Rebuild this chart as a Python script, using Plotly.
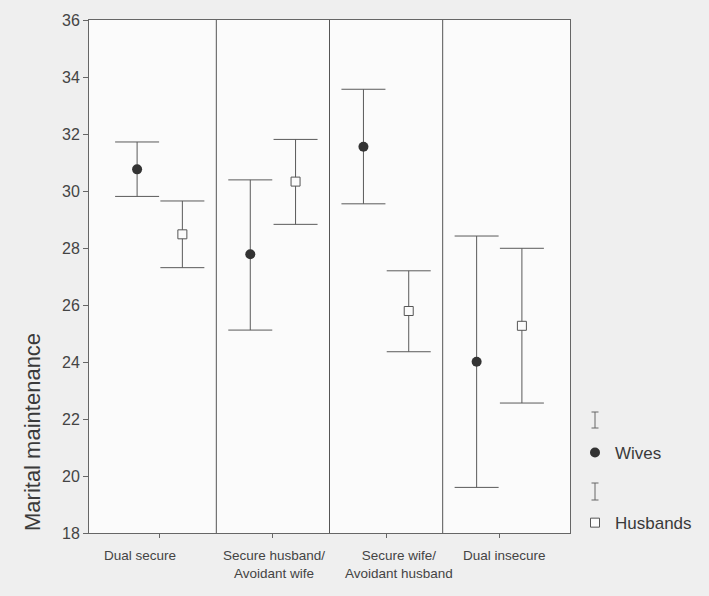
import plotly.graph_objects as go

categories = ["Dual secure", "Secure husband/<br>Avoidant wife",
              "Secure wife/<br>Avoidant husband", "Dual insecure"]
cat_pos = [1, 2, 3, 4]

wives_mean = [30.76, 27.78, 31.55, 24.01]
wives_upper = [31.72, 30.39, 33.57, 28.42]
wives_lower = [29.81, 25.12, 29.55, 19.60]

husbands_mean = [28.48, 30.33, 25.79, 25.27]
husbands_upper = [29.65, 31.81, 27.20, 27.99]
husbands_lower = [27.31, 28.83, 24.36, 22.56]

y_ticks = [18, 20, 22, 24, 26, 28, 30, 32, 34, 36]

W, H = 709, 596
ML, MR, MT, MB = 89, 139, 20, 63
PW, PH = W - ML - MR, H - MT - MB
BG = "#efefef"


def px_x(px):
    return (px - ML) / PW


def px_y(py):
    return (H - MB - py) / PH


off = 0.2
ecol = "#5a5a5a"
fig = go.Figure()
fig.add_trace(go.Scatter(
    x=[c - off for c in cat_pos], y=wives_mean, mode="markers", name="Wives",
    legendgroup="w",
    marker=dict(symbol="circle", size=10, color="#333333", line=dict(width=0)),
    error_y=dict(type="data", symmetric=False,
                 array=[u - m for u, m in zip(wives_upper, wives_mean)],
                 arrayminus=[m - l for m, l in zip(wives_mean, wives_lower)],
                 color=ecol, thickness=1, width=22),
))
fig.add_trace(go.Scatter(
    x=[c + off for c in cat_pos], y=husbands_mean, mode="markers", name="Husbands",
    legendgroup="h",
    marker=dict(symbol="square", size=9, color="#fbfbfb", line=dict(width=1, color="#555555")),
    error_y=dict(type="data", symmetric=False,
                 array=[u - m for u, m in zip(husbands_upper, husbands_mean)],
                 arrayminus=[m - l for m, l in zip(husbands_mean, husbands_lower)],
                 color=ecol, thickness=1, width=22),
))

shapes = []
for b in [1.5, 2.5, 3.5]:
    shapes.append(dict(type="line", xref="x", yref="paper", x0=b, x1=b, y0=0, y1=1,
                       line=dict(color="#555555", width=1)))
# legend error-bar glyphs
for (t, b) in [(412, 428), (483, 500)]:
    xc = 595
    shapes.append(dict(type="line", xref="paper", yref="paper", x0=px_x(xc), x1=px_x(xc),
                       y0=px_y(t), y1=px_y(b), line=dict(color="#666666", width=1)))
    for yy in (t, b):
        shapes.append(dict(type="line", xref="paper", yref="paper", x0=px_x(xc - 3.5),
                           x1=px_x(xc + 3.5), y0=px_y(yy), y1=px_y(yy),
                           line=dict(color="#666666", width=1)))

annotations = []
shifts = [-20, 1, 13, 5]
for c, lab, s in zip(cat_pos, categories, shifts):
    annotations.append(dict(x=c, y=px_y(546), xref="x", yref="paper", text=lab,
                            showarrow=False, xanchor="center", yanchor="top", xshift=s,
                            font=dict(size=13.5, color="#444444")))
annotations.append(dict(x=px_x(32), y=px_y(432), xref="paper", yref="paper",
                        xanchor="center", yanchor="middle",
                        text="Marital maintenance", textangle=-90, showarrow=False,
                        font=dict(size=22, color="#3a3a3a")))

fig.update_layout(
    width=W, height=H,
    margin=dict(l=ML, r=MR, t=MT, b=MB, pad=0),
    paper_bgcolor=BG, plot_bgcolor="#fbfbfb",
    font=dict(family="Liberation Sans, Arial, sans-serif", color="#444444"),
    showlegend=True,
    legend=dict(x=px_x(575), y=px_y(435), xanchor="left", yanchor="top",
                bgcolor="rgba(0,0,0,0)", font=dict(size=17, color="#3a3a3a"),
                tracegroupgap=45, traceorder="grouped"),
    shapes=shapes, annotations=annotations,
    xaxis=dict(range=[0.375, 4.625], tickvals=cat_pos, showticklabels=False,
               ticks="outside", ticklen=4, tickcolor="#666666",
               showline=True, linecolor="#666666", linewidth=1, mirror=True,
               showgrid=False, zeroline=False),
    yaxis=dict(range=[18, 36], tickvals=y_ticks, ticks="outside", ticklen=5,
               tickcolor="#666666", tickfont=dict(size=16, color="#444444"),
               showline=True, linecolor="#666666", linewidth=1, mirror=True,
               showgrid=False, zeroline=False),
)

fig.write_html("out.html", config={"displayModeBar": False},
               post_script="document.body.style.margin='0';"
                           "document.body.style.background='" + BG + "';")
